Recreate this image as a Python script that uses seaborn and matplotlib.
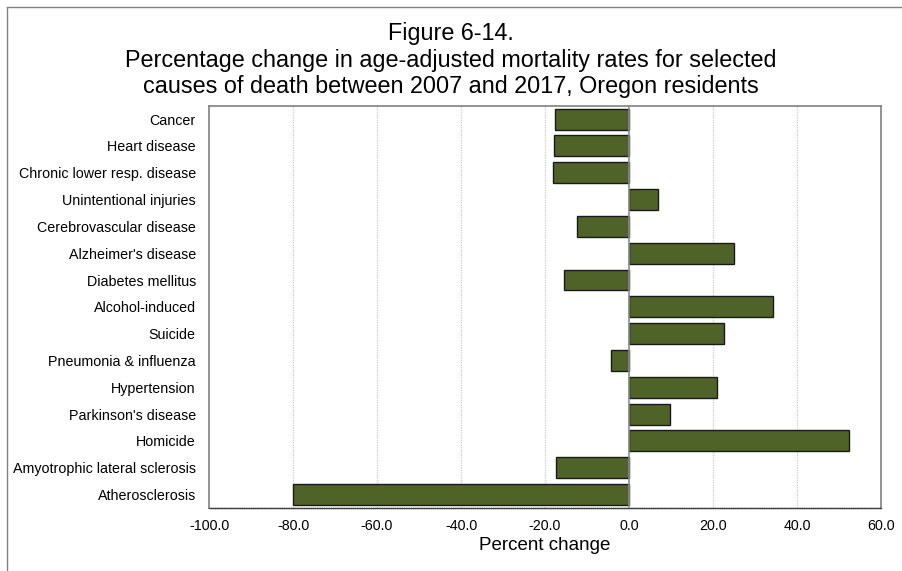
import matplotlib
matplotlib.use("Agg")
import matplotlib.pyplot as plt
import seaborn as sns
import pandas as pd
from matplotlib.lines import Line2D

causes = ["Cancer", "Heart disease", "Chronic lower resp. disease", "Unintentional injuries",
          "Cerebrovascular disease", "Alzheimer's disease", "Diabetes mellitus", "Alcohol-induced",
          "Suicide", "Pneumonia & influenza", "Hypertension", "Parkinson's disease", "Homicide",
          "Amyotrophic lateral sclerosis", "Atherosclerosis"]
pct_change = [-17.7, -17.9, -18.0, 6.8, -12.4, 25.1, -15.5, 34.4, 22.5, -4.4, 21.0, 9.8, 52.4, -17.4, -80.0]
x_ticks = [-100, -80, -60, -40, -20, 0, 20, 40, 60]
x_tick_labels = ["-100.0", "-80.0", "-60.0", "-40.0", "-20.0", "0.0", "20.0", "40.0", "60.0"]

sns.set_theme(style="white")
plt.rcParams['font.family'] = ['Liberation Sans', 'DejaVu Sans']
plt.rcParams['text.color'] = 'black'

df = pd.DataFrame({"cause": causes, "pct": pct_change})

fig = plt.figure(figsize=(9.02, 5.71), dpi=100)
ax = fig.add_axes([209/902, 1-508/571, (881-209)/902, (508-105.7)/571])

# figure border (left and top only visible)
bx, by = 7.5/902, 1-6.5/571
fig.add_artist(Line2D([bx, bx], [0, by], transform=fig.transFigure, color="#808080", linewidth=1.0))
fig.add_artist(Line2D([bx, 1], [by, by], transform=fig.transFigure, color="#808080", linewidth=1.0))

# gridlines
for t in x_ticks[1:-1]:
    if t == 0:
        continue
    ax.axvline(t, color="#c8c8c8", linestyle=(0, (1, 1)), linewidth=0.9, zorder=0)

sns.barplot(data=df, x="pct", y="cause", orient="h", color="#4f6228", saturation=1,
            width=0.78, edgecolor="#1a1a1a", linewidth=1.0, ax=ax, zorder=2)
ax.axvline(0, color="#8c8c8c", linewidth=1.2, zorder=3)

ax.set_xlim(-100, 60)
ax.set_xticks(x_ticks)
ax.set_xticklabels(x_tick_labels, fontsize=10.3)
ax.tick_params(axis="x", length=3, color="#b0b0b0", pad=5, width=0.8)
ax.tick_params(axis="y", length=0, pad=9.5, labelsize=10.3)
for lbl in ax.get_xticklabels() + ax.get_yticklabels():
    lbl.set_color("#000000")
ax.set_ylabel("")
ax.set_xlabel("Percent change", fontsize=13.5, labelpad=3, color="black")

for side in ["left", "top", "right"]:
    ax.spines[side].set_color("#808080")
    ax.spines[side].set_linewidth(1.2)
ax.spines["bottom"].set_color("#404040")
ax.spines["bottom"].set_linestyle((0, (1, 0.6)))
ax.spines["bottom"].set_linewidth(1.0)

fig.text(0.5, 1-40/571, "Figure 6-14.", ha="center", va="baseline", fontsize=16.8)
fig.text(0.5, 1-67/571, "Percentage change in age-adjusted mortality rates for selected",
         ha="center", va="baseline", fontsize=16.8)
fig.text(0.5, 1-93.5/571, "causes of death between 2007 and 2017, Oregon residents",
         ha="center", va="baseline", fontsize=16.8)

fig.savefig("out.png", dpi=100)
